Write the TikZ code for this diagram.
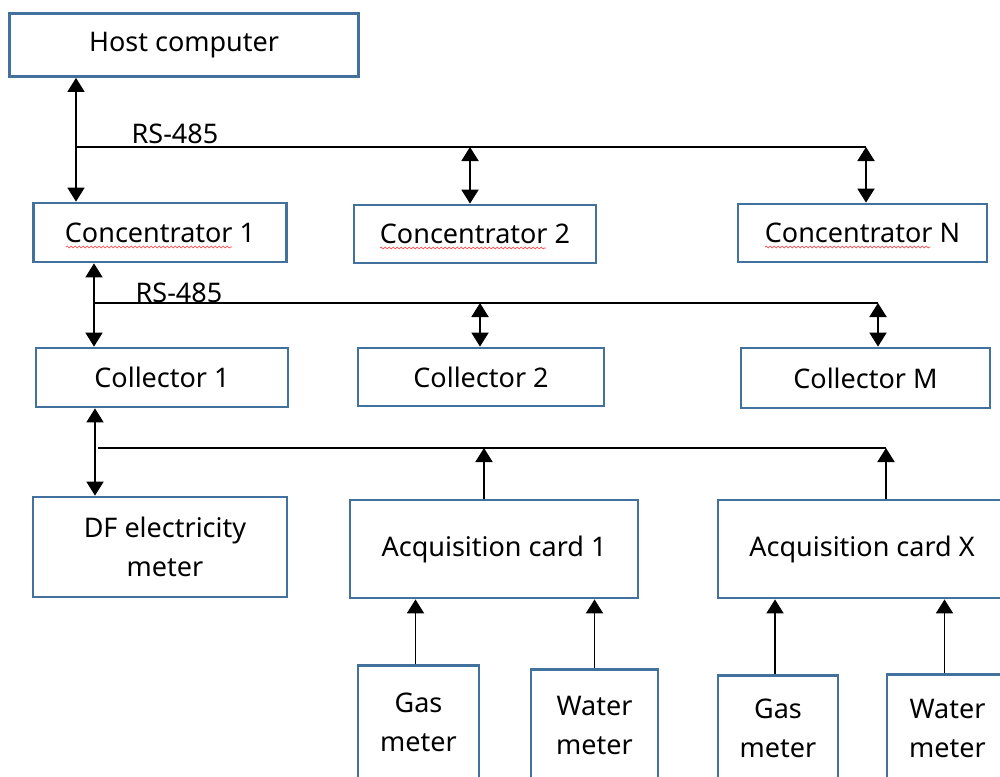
\documentclass[tikz,border=0pt]{standalone}
\usepackage{fontspec}
\setmainfont{Noto Sans}
\usetikzlibrary{arrows.meta, decorations.pathmorphing}
\definecolor{boxblue}{RGB}{65,113,156}

\begin{document}
\begin{tikzpicture}[x=1pt, y=-1pt, font=\fontsize{27}{39}\selectfont,
    block/.style={draw=boxblue, line width=2.8pt, inner sep=0pt, align=center},
    meterbox/.style={block, anchor=north},
    both/.style={line width=1.9pt, {Triangle[length=14pt,width=17pt]}-{Triangle[length=14pt,width=17pt]}},
    feed/.style={line width=1.9pt, -{Triangle[length=14pt,width=17pt]}},
    bus/.style={line width=1.5pt},
    spell/.style={red!80, line width=0.6pt, decorate, decoration={snake, segment length=4pt, amplitude=0.9pt}}]

    \useasboundingbox (0,0) rectangle (1000,776);
    \clip (0,0) rectangle (1000,776);

    % top level
    \node[block, minimum width=349pt, minimum height=63pt] (host) at (184,45) {Host computer};

    % concentrators
    \node[block, minimum width=253pt, minimum height=59pt] (conc1) at (160,232.5) {Concentrator 1};
    \node[block, minimum width=242pt, minimum height=58pt] (conc2) at (475,234) {Concentrator 2};
    \node[block, minimum width=249pt, minimum height=58pt] (concN) at (862.5,233) {Concentrator N};

    % spell check marks
    \draw[spell] ([shift={(-94,14.5)}]conc1.center) -- ++(166,0);
    \draw[spell] ([shift={(-95,14)}]conc2.center) -- ++(166,0);
    \draw[spell] ([shift={(-97.5,14)}]concN.center) -- ++(165,0);

    % collectors
    \node[block, minimum width=252pt, minimum height=59pt] (coll1) at (162,377.5) {Collector 1};
    \node[block, minimum width=246pt, minimum height=58pt] (coll2) at (481,377) {Collector 2};
    \node[block, minimum width=249pt, minimum height=60pt] (collM) at (865.5,378) {Collector M};

    % meters and cards
    \node[block, minimum width=254pt, minimum height=100pt] (df) at (160,547) {\hspace*{10pt}DF electricity\\\hspace*{10pt}meter};
    \node[block, minimum width=288pt, minimum height=98pt] (card1) at (494,549) {Acquisition card 1};
    \node[block, minimum width=288pt, minimum height=98pt] (cardX) at (862,549) {Acquisition card X};

    \node[meterbox, minimum width=121pt, minimum height=114pt] (gasA) at (418.5,664) {Gas\\meter};
    \node[meterbox, minimum width=127pt, minimum height=112pt] (waterA) at (594.5,668) {Water\\meter};
    \node[meterbox, minimum width=120pt, minimum height=106pt] (gasB) at (778,674) {Gas\\meter};
    \node[meterbox, minimum width=121pt, minimum height=108pt] (waterB) at (947.5,673) {Water\\meter};

    % bus labels
    \node (rsA) at (175,134) {RS-485};
    \node (rsB) at (179,292.5) {RS-485};

    % bus taps
    \coordinate (hubA) at (76,147);
    \coordinate (tapA2) at (470,147);
    \coordinate (tapAN) at (866,147);
    \coordinate (hubB) at (94,303);
    \coordinate (tapB2) at (480,303);
    \coordinate (tapBM) at (878,303);
    \coordinate (hubC) at (98,448);
    \coordinate (tapC1) at (484,448);
    \coordinate (tapCX) at (886,448);

    \draw[bus] (hubA) -- (tapAN);
    \draw[bus] (hubB) -- (tapBM);
    \draw[bus] (hubC) -- (tapCX);

    \draw[both] (host.south -| hubA) -- (conc1.north -| hubA);
    \draw[both] (tapA2) -- (conc2.north -| tapA2);
    \draw[both] (tapAN) -- (concN.north -| tapAN);

    \draw[both] (conc1.south -| hubB) -- (coll1.north -| hubB);
    \draw[both] (tapB2) -- (coll2.north -| tapB2);
    \draw[both] (tapBM) -- (collM.north -| tapBM);

    \draw[both] ([xshift=-3pt]coll1.south -| hubC) -- ([xshift=-3pt]df.north -| hubC);
    \draw[feed] (card1.north -| tapC1) -- (tapC1);
    \draw[feed] (cardX.north -| tapCX) -- (tapCX);

    \draw[feed] ([xshift=-3pt]gasA.north) -- ([xshift=-3pt]gasA.north |- card1.south);
    \draw[feed] (waterA.north) -- (waterA.north |- card1.south);
    \draw[feed] ([xshift=-3pt]gasB.north) -- ([xshift=-3pt]gasB.north |- cardX.south);
    \draw[feed] ([xshift=-3pt]waterB.north) -- ([xshift=-3pt]waterB.north |- cardX.south);

\end{tikzpicture}
\end{document}
